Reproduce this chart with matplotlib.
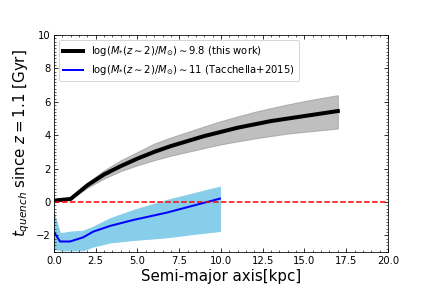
import matplotlib
matplotlib.use('Agg')
import matplotlib.pyplot as plt
from matplotlib.ticker import MultipleLocator

# this work: quench time vs semi-major axis
r_this = [0.0, 1.0, 2.0, 3.0, 4.0, 5.0, 6.0, 7.0, 8.0, 9.0, 10.0, 11.0, 12.0, 13.0, 14.0, 15.0, 16.0, 17.0]
t_this = [0.08, 0.18, 1.0, 1.65, 2.15, 2.6, 3.0, 3.35, 3.65, 3.95, 4.2, 4.45, 4.65, 4.85, 5.0, 5.15, 5.3, 5.45]
t_this_lo = [0.08, 0.18, 0.85, 1.4, 1.85, 2.2, 2.5, 2.77, 3.0, 3.23, 3.45, 3.63, 3.8, 3.95, 4.1, 4.2, 4.3, 4.4]
t_this_hi = [0.08, 0.18, 1.15, 1.9, 2.5, 3.0, 3.5, 3.87, 4.2, 4.53, 4.85, 5.13, 5.4, 5.63, 5.85, 6.05, 6.23, 6.4]

# Tacchella+2015
r_tac = [0.0, 0.36, 0.96, 1.75, 2.35, 3.35, 4.75, 6.75, 8.34, 9.94]
t_tac = [-1.8, -2.37, -2.37, -2.12, -1.78, -1.44, -1.08, -0.64, -0.22, 0.2]
t_tac_lo = [-2.78, -2.9, -2.9, -2.9, -2.67, -2.43, -2.28, -2.12, -1.92, -1.74]
t_tac_hi = [-0.68, -1.88, -1.78, -1.72, -1.48, -0.98, -0.48, 0.12, 0.52, 0.92]

fig = plt.figure(figsize=(6, 4), dpi=72)
ax = fig.add_subplot(111)
fig.subplots_adjust(left=0.125, right=0.898, top=0.878, bottom=0.125)

ax.fill_between(r_this, t_this_lo, t_this_hi, color='grey', alpha=0.5)
ax.plot(r_this, t_this, color='black', lw=4,
        label=r'$\log(M_{*}(z\sim2)/M_{\odot})\sim9.8$ (this work)')
ax.fill_between(r_tac, t_tac_lo, t_tac_hi, color='skyblue')
ax.plot(r_tac, t_tac, color='blue', lw=2,
        label=r'$\log(M_{*}(z\sim2)/M_{\odot})\sim11$ (Tacchella+2015)')
ax.axhline(0, color='red', ls='--', lw=1.5)

ax.set_xlim(0, 20)
ax.set_ylim(-3, 10)
ax.xaxis.set_major_locator(MultipleLocator(2.5))
ax.xaxis.set_minor_locator(MultipleLocator(0.5))
ax.yaxis.set_major_locator(MultipleLocator(2))
ax.yaxis.set_minor_locator(MultipleLocator(0.2))
ax.tick_params(which='both', direction='in', top=True, right=True)
ax.tick_params(which='major', length=4)
ax.tick_params(which='minor', length=2)

ax.set_xlabel('Semi-major axis[kpc]', fontsize=15)
ax.set_ylabel(r'$t_{quench}$ since $z=1.1$ [Gyr]', fontsize=15)
ax.legend(loc='upper left', fontsize=10)

fig.savefig('out.png', dpi=72)
